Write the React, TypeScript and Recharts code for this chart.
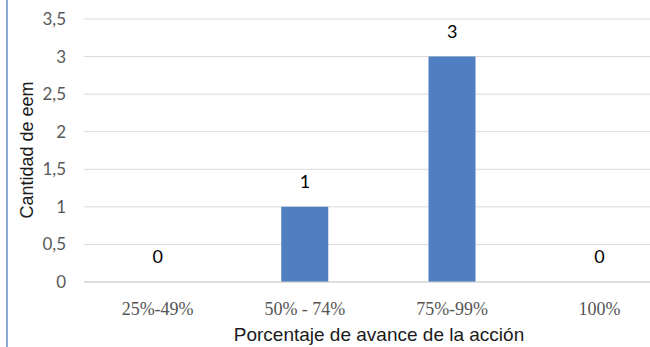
import React from 'react';
import { ComposedChart, Bar, Line, XAxis, YAxis, CartesianGrid, LabelList } from 'recharts';

// avance de la acción (categorías) y cantidad de eem
const categories = ['25%-49%', '50% - 74%', '75%-99%', '100%'];
const counts = [0, 1, 3, 0];
const yTicks = [0, 0.5, 1, 1.5, 2, 2.5, 3, 3.5];

const data = categories.map((name, i) => ({ name, value: counts[i] }));

const fmt = (v: number) => String(v).replace('.', ',');

const App = () => {
  return (
    <div style={{ position: 'absolute', left: 0, top: 0, width: 650, height: 347, overflow: 'hidden', background: '#fff' }}>
      <div style={{ position: 'absolute', left: 6, top: 0, width: 2, height: 347, background: '#8ea8d6' }} />
      <ComposedChart
        width={680}
        height={347}
        data={data}
        margin={{ top: 19, right: 7, bottom: 0, left: 0 }}
      >
        <CartesianGrid vertical={false} stroke="#d9d9d9" />
        <XAxis
          dataKey="name"
          height={65}
          tickLine={false}
          axisLine={{ stroke: '#d0d0d0' }}
          tickMargin={14}
          tick={{ fill: '#555', fontSize: 18, fontFamily: '"Liberation Serif", "Times New Roman", serif' }}
          label={{
            content: () => (
              <text x={379} y={341} textAnchor="middle" fill="#1a1a1a" fontSize={19} fontFamily='"Liberation Sans", Arial, sans-serif'>
                Porcentaje de avance de la acción
              </text>
            ),
          }}
        />
        <YAxis
          width={84}
          domain={[0, 3.5]}
          ticks={yTicks}
          tickFormatter={fmt}
          axisLine={false}
          tickLine={false}
          tickMargin={12}
          tick={{ fill: '#595959', fontSize: 17, fontFamily: 'Lato, "Open Sans", sans-serif' }}
          label={{
            content: () => (
              <text x={33} y={150} transform="rotate(-90 33 150)" textAnchor="middle" fill="#1a1a1a" fontSize={18} fontFamily='"Liberation Sans", Arial, sans-serif'>
                Cantidad de eem
              </text>
            ),
          }}
        />
        <Bar dataKey="value" fill="#4f7fc0" barSize={47} isAnimationActive={false} />
        <Line dataKey="value" stroke="none" dot={false} activeDot={false} isAnimationActive={false}>
          <LabelList dataKey="value" position="top" offset={19} fill="#000" fontSize={18} fontFamily='Lato, "Open Sans", sans-serif' />
        </Line>
      </ComposedChart>
    </div>
  );
};

export default App;
